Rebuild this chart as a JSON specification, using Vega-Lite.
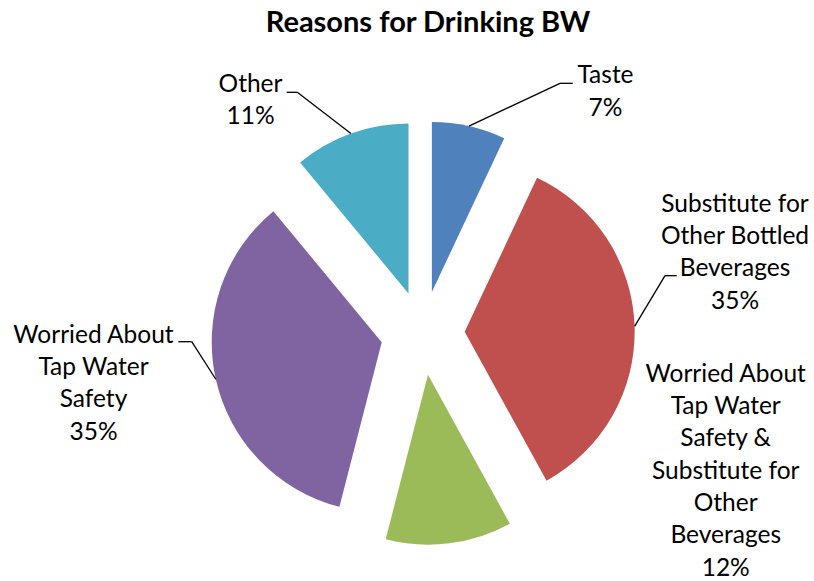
{
  "$schema": "https://vega.github.io/schema/vega-lite/v6.json",
  "width": 814,
  "height": 541,
  "padding": {"top": 40, "left": 0, "right": 0, "bottom": 0},
  "autosize": "none",
  "background": "white",
  "config": {"view": {"stroke": null}},
  "title": {
    "text": "Reasons for Drinking BW",
    "font": "Lato",
    "fontSize": 29,
    "fontWeight": "bold",
    "color": "black",
    "anchor": "middle",
    "frame": "group",
    "baseline": "top",
    "offset": 2,
    "dx": 21
  },
  "data": {
    "values": [
      {"reason": "Taste", "label": "Taste", "pct": 7},
      {"reason": "Substitute for Other Bottled Beverages", "label": "Substitute for\nOther Bottled\nBeverages", "pct": 35},
      {"reason": "Worried About Tap Water Safety & Substitute for Other Beverages", "label": "Worried About\nTap Water\nSafety &\nSubstitute for\nOther\nBeverages", "pct": 12},
      {"reason": "Worried About Tap Water Safety", "label": "Worried About\nTap Water\nSafety", "pct": 35},
      {"reason": "Other", "label": "Other", "pct": 11}
    ]
  },
  "transform": [
    {"stack": "pct", "groupby": [], "as": ["s0", "s1"]},
    {"calculate": "(datum.s0 + datum.s1) * PI / 100", "as": "mid"},
    {"calculate": "0.247 * sin(datum.mid)", "as": "ox"},
    {"calculate": "-0.247 * cos(datum.mid)", "as": "oy"},
    {"calculate": "1.247 * sin(datum.mid)", "as": "sx"},
    {"calculate": "-1.247 * cos(datum.mid)", "as": "sy"},
    {"calculate": "datum.label + '\\n' + datum.pct + '%'", "as": "txt"},
    {"calculate": "datum.reason === 'Taste' ? 1.0753 : datum.reason === 'Other' ? -1.0129 : datum.reason === 'Substitute for Other Bottled Beverages' ? 1.8371 : datum.reason === 'Worried About Tap Water Safety' ? -1.9365 : 1.7824", "as": "lx"},
    {"calculate": "datum.reason === 'Taste' ? -1.4688 : datum.reason === 'Other' ? -1.4194 : datum.reason === 'Substitute for Other Bottled Beverages' ? -0.7135 : datum.reason === 'Worried About Tap Water Safety' ? 0.0571 : 0.2865", "as": "ly"},
    {"calculate": "datum.reason === 'Taste' ? 0.8076 : datum.reason === 'Other' ? -0.7376 : datum.reason === 'Substitute for Other Bottled Beverages' ? 1.4253 : datum.reason === 'Worried About Tap Water Safety' ? -1.3588 : null", "as": "bx"},
    {"calculate": "datum.reason === 'Taste' ? 0.8824 : datum.reason === 'Other' ? -0.8 : datum.reason === 'Substitute for Other Bottled Beverages' ? 1.4941 : datum.reason === 'Worried About Tap Water Safety' ? -1.4376 : null", "as": "tx"},
    {"calculate": "datum.reason === 'Taste' ? -1.4688 : datum.reason === 'Other' ? -1.4159 : datum.reason === 'Substitute for Other Bottled Beverages' ? -0.3371 : datum.reason === 'Worried About Tap Water Safety' ? 0.0512 : null", "as": "by"}
  ],
  "layer": [
    {
      "mark": {"type": "arc", "radius": 170},
      "encoding": {
        "x": {"field": "ox", "type": "quantitative", "scale": {"domain": [-2.48647, 2.30176], "nice": false, "zero": false}, "axis": null},
        "y": {"field": "oy", "type": "quantitative", "scale": {"domain": [-1.72353, 1.45882], "nice": false, "zero": false, "reverse": true}, "axis": null},
        "theta": {"field": "s0", "type": "quantitative", "stack": null, "scale": {"domain": [0, 100], "range": [0, 6.283185307179586]}},
        "theta2": {"field": "s1"},
        "color": {
          "field": "reason",
          "type": "nominal",
          "legend": null,
          "scale": {
            "domain": ["Taste", "Substitute for Other Bottled Beverages", "Worried About Tap Water Safety & Substitute for Other Beverages", "Worried About Tap Water Safety", "Other"],
            "range": ["#4F81BD", "#C0504D", "#9BBB59", "#8064A2", "#4BACC6"]
          }
        }
      }
    },
    {
      "transform": [{"filter": "isValid(datum.bx)"}],
      "mark": {"type": "rule", "color": "black", "strokeWidth": 1.3},
      "encoding": {
        "x": {"field": "sx", "type": "quantitative", "scale": {"domain": [-2.48647, 2.30176], "nice": false, "zero": false}, "axis": null},
        "y": {"field": "sy", "type": "quantitative", "scale": {"domain": [-1.72353, 1.45882], "nice": false, "zero": false, "reverse": true}, "axis": null},
        "x2": {"field": "bx"},
        "y2": {"field": "by"}
      }
    },
    {
      "transform": [{"filter": "isValid(datum.bx)"}],
      "mark": {"type": "rule", "color": "black", "strokeWidth": 1.3},
      "encoding": {
        "x": {"field": "bx", "type": "quantitative", "scale": {"domain": [-2.48647, 2.30176], "nice": false, "zero": false}, "axis": null},
        "y": {"field": "by", "type": "quantitative", "scale": {"domain": [-1.72353, 1.45882], "nice": false, "zero": false, "reverse": true}, "axis": null},
        "x2": {"field": "tx"},
        "y2": {"field": "by"}
      }
    },
    {
      "mark": {"type": "text", "font": "Lato", "fontSize": 24.5, "lineHeight": 32.3, "lineBreak": "\n", "align": "center", "baseline": "alphabetic", "color": "black"},
      "encoding": {
        "x": {"field": "lx", "type": "quantitative", "scale": {"domain": [-2.48647, 2.30176], "nice": false, "zero": false}, "axis": null},
        "y": {"field": "ly", "type": "quantitative", "scale": {"domain": [-1.72353, 1.45882], "nice": false, "zero": false, "reverse": true}, "axis": null},
        "text": {"field": "txt"}
      }
    }
  ]
}
